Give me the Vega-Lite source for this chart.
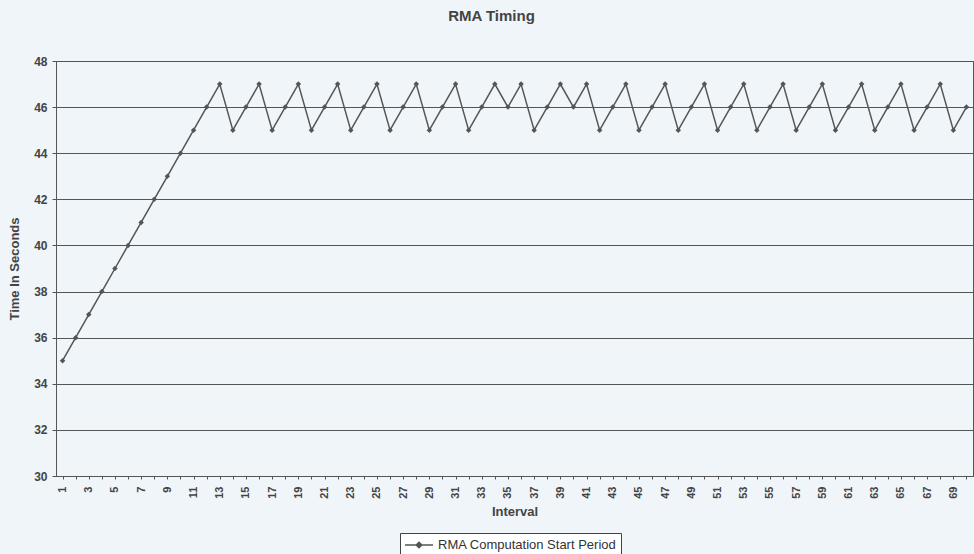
{
  "$schema": "https://vega.github.io/schema/vega-lite/v6.json",
  "width": 917,
  "height": 415,
  "autosize": {"type": "none"},
  "padding": {"left": 56, "top": 61, "right": 1, "bottom": 78},
  "background": "#eff5f9",
  "title": {"text": "RMA Timing", "fontSize": 15, "font": "Liberation Sans", "fontWeight": "bold", "color": "#444444", "anchor": "middle", "dx": -23, "offset": 31},
  "config": {
    "view": {"stroke": "#555555", "strokeWidth": 1},
    "font": "Liberation Sans",
    "axis": {"labelFont": "Liberation Sans", "titleFont": "Liberation Sans", "labelColor": "#444444", "titleColor": "#444444", "domainColor": "#555555", "tickColor": "#555555"}
  },
  "data": {"values": [
    {"interval": 1, "time": 35}, {"interval": 2, "time": 36}, {"interval": 3, "time": 37}, {"interval": 4, "time": 38},
    {"interval": 5, "time": 39}, {"interval": 6, "time": 40}, {"interval": 7, "time": 41}, {"interval": 8, "time": 42},
    {"interval": 9, "time": 43}, {"interval": 10, "time": 44}, {"interval": 11, "time": 45}, {"interval": 12, "time": 46},
    {"interval": 13, "time": 47}, {"interval": 14, "time": 45}, {"interval": 15, "time": 46}, {"interval": 16, "time": 47},
    {"interval": 17, "time": 45}, {"interval": 18, "time": 46}, {"interval": 19, "time": 47}, {"interval": 20, "time": 45},
    {"interval": 21, "time": 46}, {"interval": 22, "time": 47}, {"interval": 23, "time": 45}, {"interval": 24, "time": 46},
    {"interval": 25, "time": 47}, {"interval": 26, "time": 45}, {"interval": 27, "time": 46}, {"interval": 28, "time": 47},
    {"interval": 29, "time": 45}, {"interval": 30, "time": 46}, {"interval": 31, "time": 47}, {"interval": 32, "time": 45},
    {"interval": 33, "time": 46}, {"interval": 34, "time": 47}, {"interval": 35, "time": 46}, {"interval": 36, "time": 47},
    {"interval": 37, "time": 45}, {"interval": 38, "time": 46}, {"interval": 39, "time": 47}, {"interval": 40, "time": 46},
    {"interval": 41, "time": 47}, {"interval": 42, "time": 45}, {"interval": 43, "time": 46}, {"interval": 44, "time": 47},
    {"interval": 45, "time": 45}, {"interval": 46, "time": 46}, {"interval": 47, "time": 47}, {"interval": 48, "time": 45},
    {"interval": 49, "time": 46}, {"interval": 50, "time": 47}, {"interval": 51, "time": 45}, {"interval": 52, "time": 46},
    {"interval": 53, "time": 47}, {"interval": 54, "time": 45}, {"interval": 55, "time": 46}, {"interval": 56, "time": 47},
    {"interval": 57, "time": 45}, {"interval": 58, "time": 46}, {"interval": 59, "time": 47}, {"interval": 60, "time": 45},
    {"interval": 61, "time": 46}, {"interval": 62, "time": 47}, {"interval": 63, "time": 45}, {"interval": 64, "time": 46},
    {"interval": 65, "time": 47}, {"interval": 66, "time": 45}, {"interval": 67, "time": 46}, {"interval": 68, "time": 47},
    {"interval": 69, "time": 45}, {"interval": 70, "time": 46}
  ]},
  "encoding": {
    "x": {
      "field": "interval", "type": "ordinal",
      "scale": {"type": "point", "padding": 0.5},
      "axis": {
        "title": "Interval", "titleFontSize": 13, "titleFontWeight": "bold", "titlePadding": 7,
        "labelAngle": -90, "labelFontSize": 11, "labelFontWeight": "bold", "labelPadding": 7,
        "labelExpr": "datum.value % 2 == 1 ? datum.label : ''",
        "tickSize": 3, "grid": false, "labelOverlap": false
      }
    },
    "y": {
      "field": "time", "type": "quantitative",
      "scale": {"domain": [30, 48], "nice": false, "zero": false},
      "axis": {
        "title": "Time In Seconds", "titleFontSize": 13, "titleFontWeight": "bold", "titlePadding": 12,
        "values": [30, 32, 34, 36, 38, 40, 42, 44, 46, 48],
        "labelFontSize": 12, "labelFontWeight": "bold", "labelPadding": 5, "tickSize": 4,
        "grid": true, "gridColor": "#555555", "gridWidth": 1, "gridOpacity": 1
      }
    },
    "color": {
      "datum": "RMA Computation Start Period", "type": "nominal",
      "scale": {"range": ["#555555"]},
      "legend": {
        "title": null, "orient": "none", "legendX": 344, "legendY": 472,
        "labelFontSize": 13, "labelColor": "#333333", "labelFont": "Liberation Sans", "labelLimit": 400,
        "strokeColor": "#444444", "fillColor": "#ffffff", "padding": 4,
        "symbolType": "M-2,0H2M-0.4,0L0,-0.4L0.4,0L0,0.4Z",
        "symbolSize": 196, "symbolOffset": 7, "labelOffset": 11,
        "symbolStrokeWidth": 1.5, "symbolFillColor": "#333333", "symbolStrokeColor": "#444444"
      }
    }
  },
  "layer": [
    {"mark": {"type": "line", "strokeWidth": 1.5}},
    {"mark": {"type": "point", "shape": "diamond", "filled": true, "size": 30, "opacity": 1, "color": "#333333"}}
  ]
}
